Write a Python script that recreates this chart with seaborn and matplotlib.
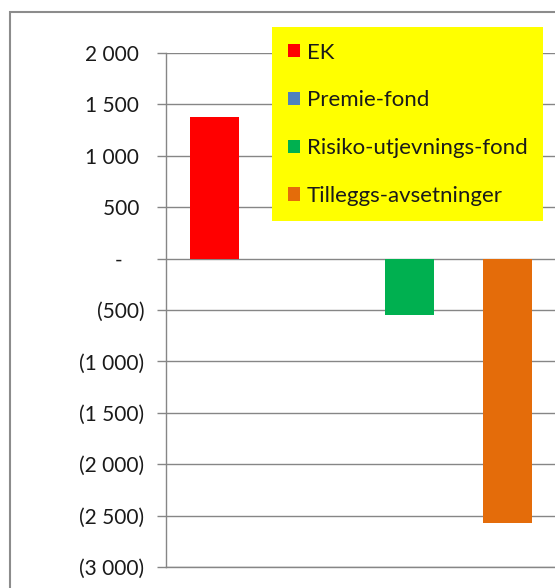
import matplotlib
matplotlib.use("Agg")
import matplotlib.pyplot as plt
import seaborn as sns
import pandas as pd
from matplotlib.patches import Patch, Rectangle
from matplotlib.ticker import FuncFormatter, MultipleLocator


# data
categories = ["EK", "Premie-fond", "Risiko-utjevnings-fond", "Tilleggs-avsetninger"]
values = [1380, 0, -550, -2570]
colors = ["#FF0000", "#4F81BD", "#00B050", "#E46C0A"]


def accounting(v, pos):
    # excel style accounting format: space as thousand sep, negatives in brackets
    if v == 0:
        return "-    "
    txt = f"{abs(v):,.0f}".replace(",", " ")
    if v < 0:
        return "(" + txt + ")"
    return txt + " "


sns.set_style("white")
plt.rcParams['font.family'] = ['Lato', 'DejaVu Sans']

df = pd.DataFrame({"category": categories, "value": values})
palette = dict(zip(categories, colors))

fig = plt.figure(figsize=(5.55, 5.88), dpi=100)
ax = fig.add_axes([166 / 555, 1 - 567 / 588, 390 / 555, 514 / 588])

sns.barplot(
    data=df,
    x="category",
    y="value",
    hue="category",
    palette=palette,
    width=0.5,
    saturation=1,
    linewidth=0,
    legend=False,
    ax=ax,
)

grid_color = '#868686'
ax.set_ylim(-3000, 2000)
ax.yaxis.set_major_locator(MultipleLocator(500))
ax.yaxis.set_major_formatter(FuncFormatter(accounting))
ax.grid(axis='y', color=grid_color, linewidth=1)
ax.set_axisbelow(True)
ax.set_xticks([])
ax.set_xlabel("")
ax.set_ylabel("")
ax.tick_params(axis='y', left=True, length=6.5, width=1, color=grid_color,
               pad=9, labelsize=15, labelcolor='#1a1a1a')
for side in ['top', 'right']:
    ax.spines[side].set_visible(False)
for side in ['left', 'bottom']:
    ax.spines[side].set_color(grid_color)
    ax.spines[side].set_linewidth(1)

handles = [Patch(facecolor=c, edgecolor='none') for c in colors]
leg = ax.legend(
    handles, categories,
    loc='upper left',
    bbox_to_anchor=(272 / 555, 1 - 27 / 588),
    bbox_transform=fig.transFigure,
    frameon=True, fancybox=False, framealpha=1,
    facecolor='#FFFF00', edgecolor='none',
    fontsize=16, handlelength=0.55, handleheight=0.55,
    handletextpad=0.32, labelspacing=1.25, borderpad=0.7, borderaxespad=0,
)
for t in leg.get_texts():
    t.set_color('#1a1a1a')
leg.set_zorder(10)

# outer chart border, cut off at the right and bottom like the screenshot
fig.patches.append(Rectangle((10 / 555, -0.05), 1.0, (1 - 12 / 588) + 0.05,
                             transform=fig.transFigure, fill=False,
                             edgecolor='#8c8c8c', linewidth=1.5))

fig.savefig("out.png", dpi=100)
